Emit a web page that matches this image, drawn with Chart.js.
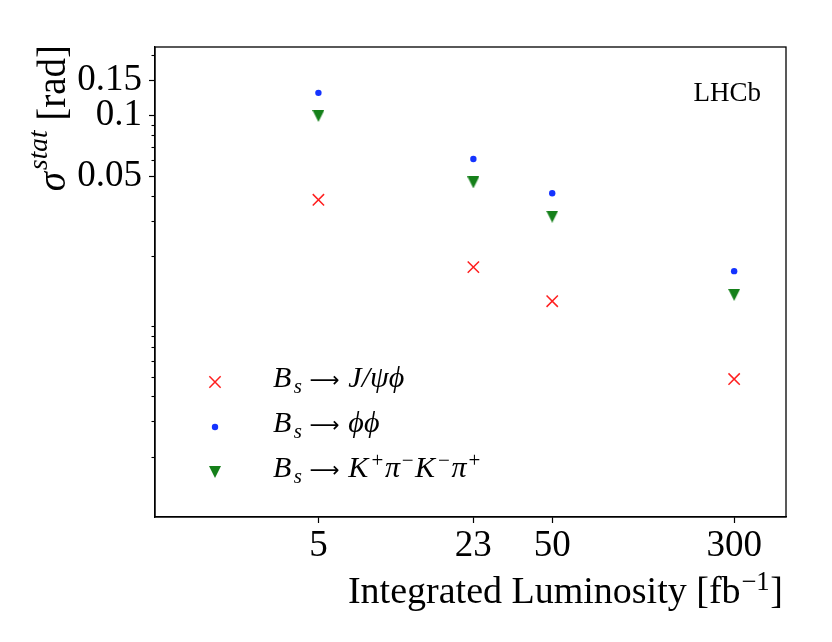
<!DOCTYPE html>
<html>
<head>
<meta charset="utf-8">
<title>sigma stat vs integrated luminosity</title>
<script src="https://cdn.jsdelivr.net/npm/chart.js@4.4.1/dist/chart.umd.min.js"></script>
<style>
  html, body { margin: 0; padding: 0; background: #fff; }
  canvas { display: block; }
</style>
</head>
<body>
<canvas id="sigmaChart" width="832" height="642"></canvas>
<script>
// integrated luminosity [fb^-1]
const lumi = [5, 23, 50, 300];
// sigma^stat [rad] per channel
const jpsiPhi = [0.0381, 0.0176, 0.0119, 0.00487];
const phiPhi  = [0.130, 0.0608, 0.0411, 0.0168];
const kpiKpi  = [0.0997, 0.0465, 0.0314, 0.0128];

// axis ticks
const xTicks = [5, 23, 50, 300];
const yTicks = [0.05, 0.1, 0.15];
const yMinorTicks = [0.002, 0.003, 0.004, 0.005, 0.006, 0.007, 0.008, 0.009,
                     0.02, 0.03, 0.04, 0.06, 0.07, 0.08, 0.09, 0.2];

const SERIF = '"Liberation Serif", "DejaVu Serif", serif';
const ARROW_FONT = '"DejaVu Sans", sans-serif';

// 수식 비슷한 텍스트: [text, kind, 앞 여백(em)]  kind = rm / it / sup / sub / supit / subit / ar
const labelJpsi = [['B', 'it'], ['s', 'subit', 0.08], ['\u27F6', 'ar', 0.25], ['J/\u03C8\u03D5', 'it', 0.3]];
const labelPhi  = [['B', 'it'], ['s', 'subit', 0.08], ['\u27F6', 'ar', 0.25], ['\u03D5\u03D5', 'it', 0.3]];
const labelKpi  = [['B', 'it'], ['s', 'subit', 0.08], ['\u27F6', 'ar', 0.25],
                   ['K', 'it', 0.3], ['+', 'sup', 0.1], ['\u03C0', 'it', 0.06], ['\u2212', 'sup', 0.06],
                   ['K', 'it', 0.04], ['\u2212', 'sup', 0.1], ['\u03C0', 'it', 0.06], ['+', 'sup', 0.06]];
const yTitle = [['\u03C3', 'it'], ['stat', 'supit', 0.05], [' [rad]', 'rm']];
const xTitle = [['Integrated Luminosity [fb', 'rm'], ['\u22121', 'sup', 0.02], [']', 'rm', 0.02]];

// 화살표는 폭이 1em 이 되도록 글꼴 크기를 맞춤
function arrowSize(ctx, t, size) {
  ctx.font = size + 'px ' + ARROW_FONT;
  const w = ctx.measureText(t).width || size;
  return size * size / w;
}

function fontFor(ctx, t, kind, size) {
  if (kind === 'ar') return arrowSize(ctx, t, size) + 'px ' + ARROW_FONT;
  const small = kind.startsWith('sup') || kind.startsWith('sub');
  const it = kind.endsWith('it');
  return (it ? 'italic ' : '') + (small ? size * 0.7 : size) + 'px ' + SERIF;
}

function richWidth(ctx, parts, size) {
  let w = 0;
  for (const [t, kind, gap] of parts) {
    ctx.font = fontFor(ctx, t, kind, size);
    w += ctx.measureText(t).width + (gap || 0) * size;
  }
  return w;
}

function drawRich(ctx, parts, x, y, size, align) {
  ctx.save();
  ctx.fillStyle = '#000';
  ctx.textAlign = 'left';
  ctx.textBaseline = 'alphabetic';
  let cx = align === 'right' ? x - richWidth(ctx, parts, size) : x;
  for (const [t, kind, gap] of parts) {
    cx += (gap || 0) * size;
    ctx.font = fontFor(ctx, t, kind, size);
    let dy = 0;
    if (kind === 'sup') dy = -0.33 * size;
    if (kind === 'supit') dy = -0.45 * size;
    if (kind.startsWith('sub')) dy = 0.2 * size;
    ctx.fillText(t, cx, y + dy);
    cx += ctx.measureText(t).width;
  }
  ctx.restore();
}

// 아래로 향한 삼각형 마커 (matplotlib 'v')
function makeTriangle(size, color) {
  const c = document.createElement('canvas');
  c.width = size; c.height = size;
  const g = c.getContext('2d');
  g.fillStyle = color;
  g.beginPath();
  g.moveTo(0, 0);
  g.lineTo(size, 0);
  g.lineTo(size / 2, size);
  g.closePath();
  g.fill();
  return c;
}

const RED = '#ff1f1f', BLUE = '#1433ff', GREEN = '#15801a';
const triangle = makeTriangle(12, GREEN);

function toPoints(ys) {
  return lumi.map((x, i) => ({ x: x, y: ys[i] }));
}

function drawMarker(ctx, ds, x, y) {
  ctx.save();
  if (ds.pointStyle === 'crossRot') {
    const h = ds.pointRadius * Math.SQRT1_2;
    ctx.strokeStyle = ds.borderColor;
    ctx.lineWidth = ds.borderWidth;
    ctx.beginPath();
    ctx.moveTo(x - h, y - h); ctx.lineTo(x + h, y + h);
    ctx.moveTo(x - h, y + h); ctx.lineTo(x + h, y - h);
    ctx.stroke();
  } else if (ds.pointStyle === 'circle') {
    ctx.fillStyle = ds.backgroundColor;
    ctx.beginPath();
    ctx.arc(x, y, ds.pointRadius, 0, Math.PI * 2);
    ctx.fill();
  } else {
    const img = ds.pointStyle;
    ctx.drawImage(img, x - img.width / 2, y - img.height / 2);
  }
  ctx.restore();
}

const decorPlugin = {
  id: 'decor',
  afterDraw(chart) {
    const { ctx, chartArea: a, scales } = chart;

    // y 보조 눈금
    ctx.save();
    ctx.strokeStyle = '#000';
    ctx.lineWidth = 1.1;
    yMinorTicks.forEach(v => {
      const py = Math.round(scales.y.getPixelForValue(v)) + 0.5;
      ctx.beginPath();
      ctx.moveTo(a.left - 3.5, py);
      ctx.lineTo(a.left, py);
      ctx.stroke();
    });
    // frame
    ctx.lineWidth = 1.3;
    ctx.strokeRect(a.left, a.top, a.right - a.left, a.bottom - a.top);
    ctx.restore();

    // legend (lower left)
    chart.data.datasets.forEach((ds, i) => {
      const y = a.bottom - 135 + i * 45;
      drawMarker(ctx, ds, a.left + 60, y);
      drawRich(ctx, ds.mathLabel, a.left + 118, y + 5, 30, 'left');
    });

    // LHCb
    drawRich(ctx, [['LHCb', 'rm']], a.right - 25, a.top + 54, 27, 'right');

    // axis titles
    drawRich(ctx, xTitle, a.right - 3, a.bottom + 86, 38, 'right');
    ctx.save();
    ctx.translate(65, a.top - 2);
    ctx.rotate(-Math.PI / 2);
    drawRich(ctx, yTitle, 0, 0, 39, 'right');
    ctx.restore();
  }
};

const tickFont = { family: SERIF, size: 37 };

new Chart(document.getElementById('sigmaChart').getContext('2d'), {
  type: 'scatter',
  data: {
    datasets: [
      {
        label: 'Bs -> J/psi phi',
        mathLabel: labelJpsi,
        data: toPoints(jpsiPhi),
        pointStyle: 'crossRot',
        pointRadius: 8,
        borderColor: RED,
        backgroundColor: RED,
        borderWidth: 1.5
      },
      {
        label: 'Bs -> phi phi',
        mathLabel: labelPhi,
        data: toPoints(phiPhi),
        pointStyle: 'circle',
        pointRadius: 3.2,
        borderWidth: 0,
        borderColor: BLUE,
        backgroundColor: BLUE
      },
      {
        label: 'Bs -> K+ pi- K- pi+',
        mathLabel: labelKpi,
        data: toPoints(kpiKpi),
        pointStyle: triangle,
        borderWidth: 0,
        borderColor: GREEN,
        backgroundColor: GREEN
      }
    ]
  },
  options: {
    responsive: false,
    animation: false,
    events: [],
    layout: { padding: { top: 47, right: 46, left: 0, bottom: 0 } },
    plugins: { legend: { display: false }, tooltip: { enabled: false } },
    scales: {
      x: {
        type: 'logarithmic',
        min: 1,
        max: 500,
        afterBuildTicks: s => { s.ticks = xTicks.map(v => ({ value: v })); },
        afterFit: s => { s.height = 125; },
        ticks: { font: tickFont, color: '#000', padding: 1, maxRotation: 0, autoSkip: false,
                 callback: v => String(v) },
        grid: { drawOnChartArea: false, tickLength: 6, tickColor: '#000', tickWidth: 1.2 },
        border: { display: true, color: '#000', width: 1.3 }
      },
      y: {
        type: 'logarithmic',
        min: 0.001,
        max: 0.22,
        afterBuildTicks: s => { s.ticks = yTicks.map(v => ({ value: v })); },
        afterFit: s => { s.width = 155; },
        ticks: { font: tickFont, color: '#000', padding: 7, autoSkip: false,
                 callback: v => String(v) },
        grid: { drawOnChartArea: false, tickLength: 6, tickColor: '#000', tickWidth: 1.2 },
        border: { display: true, color: '#000', width: 1.3 }
      }
    }
  },
  plugins: [decorPlugin]
});
</script>
</body>
</html>
